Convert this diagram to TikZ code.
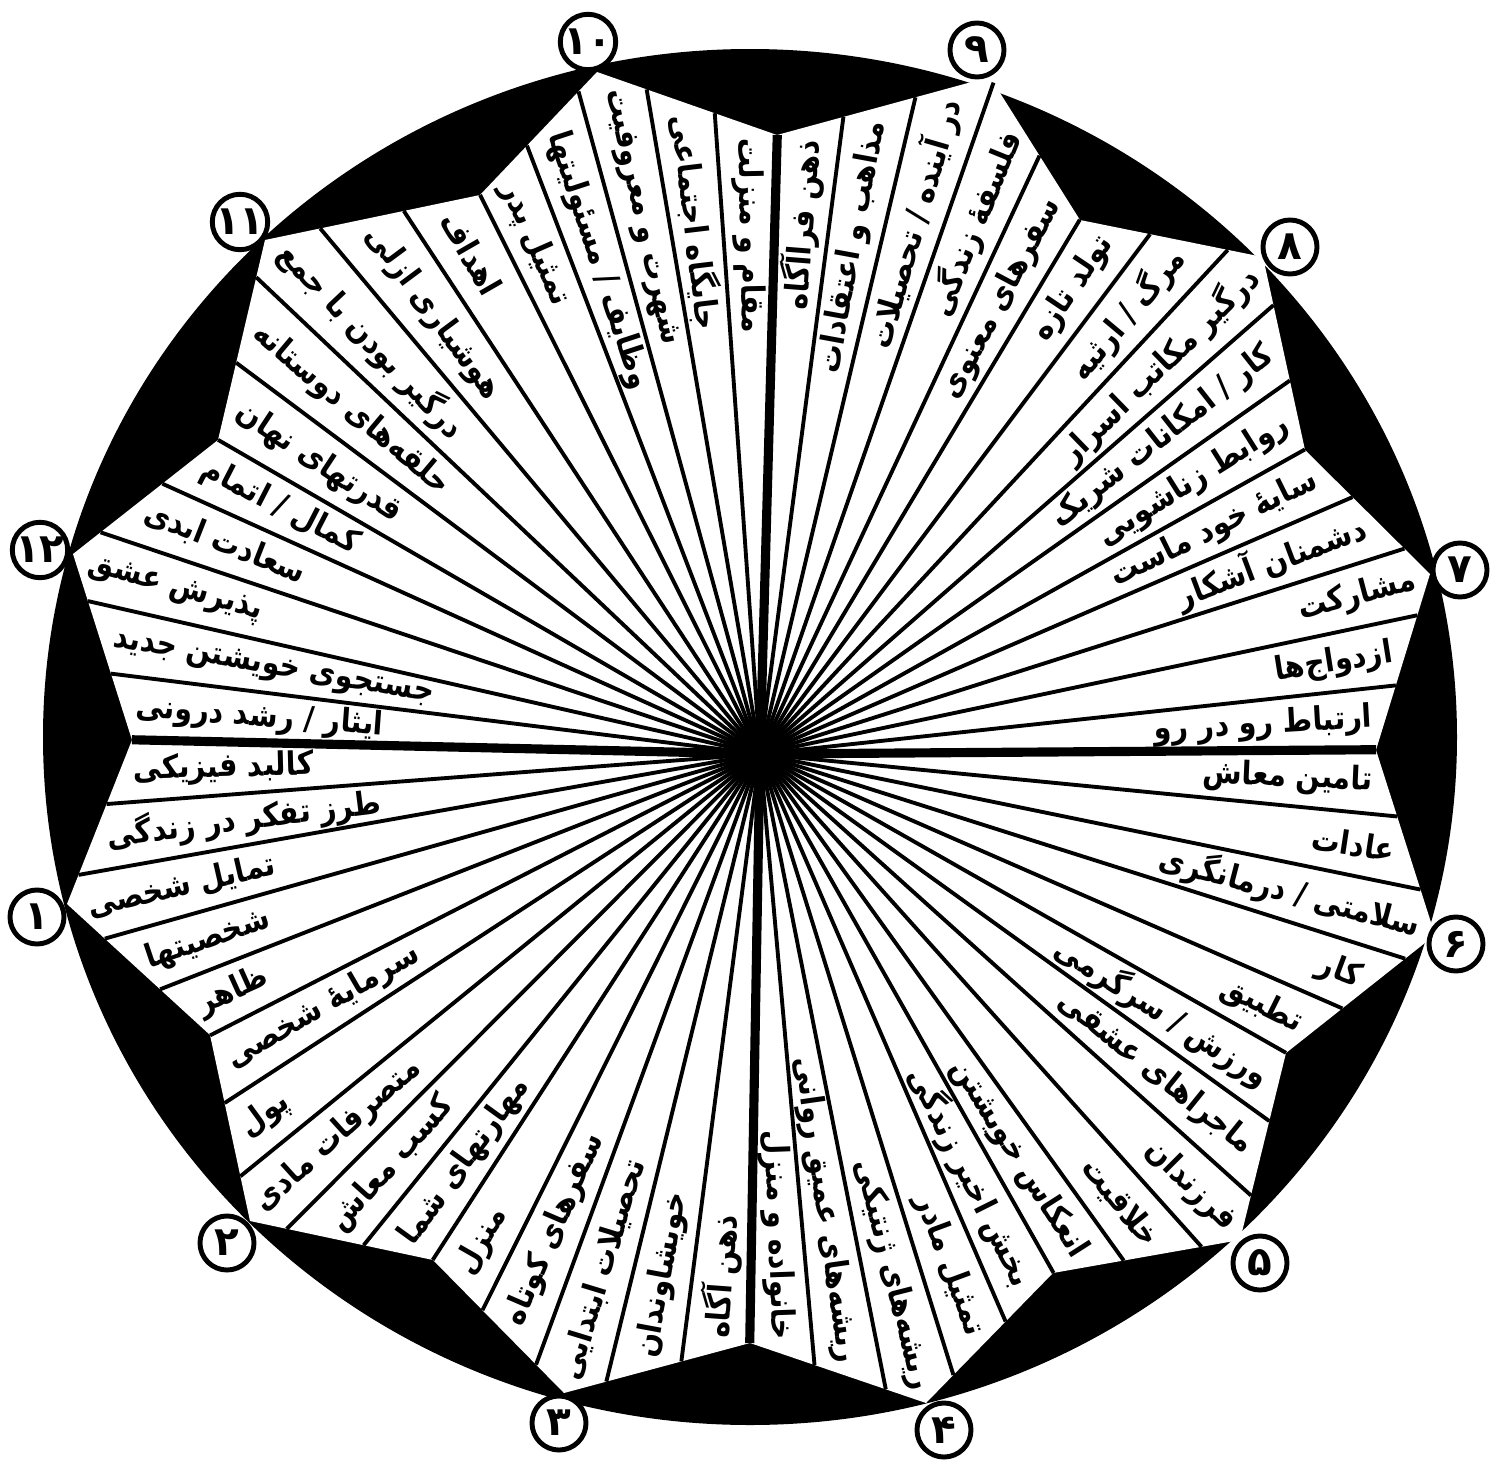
\documentclass[tikz,border=0pt]{standalone}
\usepackage{fontspec}
\usetikzlibrary{intersections}
\newfontfamily\arabicfont[Script=Arabic]{DejaVu Sans}
\newfontfamily\arabicnarrow[Script=Arabic,FakeStretch=0.88]{DejaVu Sans}
\TeXXeTstate=1
\tikzset{
  house label/.style={font=\arabicnarrow\bfseries\fontsize{9.2}{11}\selectfont, inner sep=1pt, outer sep=3pt},
  spoke/.style={line width=1.1pt},
  axis spoke/.style={line width=2.6pt},
  cusp mark/.style={circle, draw, line width=1.4pt, fill=white, minimum size=0.54cm, inner sep=0pt,
    font=\arabicfont\bfseries\fontsize{11.5}{12}\selectfont}
}
\def\cusplist{{178.7,207.1,237.1,269,299.5,330.4,360.4,389.2,419.1,448.4,476.6,509.9,538.7}}
\begin{document}
\begin{tikzpicture}[x=0.01cm,y=0.01cm]
  \useasboundingbox (0,0) rectangle (1493,-1463);
  \coordinate (O) at (760,-754);

  % black disc and white star
  \fill (750,-737) ellipse [x radius=707, y radius=688];
  \fill[white, name path=star] (67,-904) -- (210,-1035) -- (250,-1221) -- (433,-1260)
    -- (564,-1393) -- (750,-1343) -- (926,-1403) -- (1053,-1273) -- (1240,-1240)
    -- (1286,-1053) -- (1435,-935) -- (1376,-750) -- (1430,-574) -- (1305,-450)
    -- (1263,-257) -- (1080,-220) -- (990,-77) -- (777,-135) -- (597,-72)
    -- (480,-195) -- (265,-240) -- (218,-440) -- (73,-554) -- (132,-740) -- cycle;

  % spokes and labels, five per house
  \foreach \txt [count=\i from 0] in {
    کالبد فیزیکی, طرز تفکر در زندگی, تمایل شخصی, شخصیتها, ظاهر,
    سرمایهٔ شخصی, پول, متصرفات مادی, کسب معاش, مهارتهای شما,
    منزل, سفرهای کوتاه, تحصیلات ابتدایی, خویشاوندان, ذهن آگاه,
    خانواده و منزل, ریشه‌های عمیق روانی, ریشه‌های ژنتیکی, تمثیل مادر, بخش اخیر زندگی,
    انعکاس خویشتن, خلاقیت, فرزندان, ماجراهای عشقی, ورزش / سرگرمی,
    تطبیق, کار, سلامتی / درمانگری, عادات, تامین معاش,
    ارتباط رو در رو, ازدواج‌ها, مشارکت, دشمنان آشکار, سایهٔ خود ماست,
    روابط زناشویی, کار / امکانات شریک, درگیر مکاتب اسرار, مرگ / ارثیه, تولد تازه,
    سفرهای معنوی, فلسفهٔ زندگی, در آینده / تحصیلات, مذاهب و اعتقادات, ذهن فراآگاه,
    مقام و منزلت, جایگاه اجتماعی, شهرت و معروفیت, وظایف / مسئولیتها, تمثیل پدر,
    اهداف, هوشیاری ازلی, درگیر بودن با جمع, حلقه‌های دوستانه, قدرتهای نهان,
    کمال / اتمام, سعادت ابدی, پذیرش عشق, جستجوی خویشتن جدید, ایثار / رشد درونی}{
    \pgfmathtruncatemacro\h{int(\i/5)}
    \pgfmathtruncatemacro\j{\i-5*\h}
    \pgfmathsetmacro\ca{\cusplist[\h]}
    \pgfmathsetmacro\cb{\cusplist[\h+1]}
    \pgfmathsetmacro\sang{\ca+\j*(\cb-\ca)/5}
    \pgfmathsetmacro\lang{\ca+(\j+0.5)*(\cb-\ca)/5}
    \pgfmathtruncatemacro\isaxis{(\j==0 && mod(\h,3)==0) ? 1 : 0}
    \path[name path=sray] (O) -- ++(\sang:1200);
    \path[name path=lray] (O) -- ++(\lang:1200);
    \path[name intersections={of=star and sray, by=S\i}];
    \path[name intersections={of=star and lray, by=L\i}];
    \ifnum\isaxis=1
      \draw[axis spoke] (O) -- (S\i);
    \else
      \draw[spoke] (O) -- (S\i);
    \fi
    \pgfmathsetmacro\cc{cos(\lang)}
    \ifdim\cc pt>0pt
      \def\anc{east}\let\rot\lang
    \else
      \def\anc{west}\pgfmathsetmacro\rot{\lang+180}
    \fi
    \node[house label, rotate=\rot, anchor=\anc] (lab\i) at (L\i) {\beginR\txt\endR};
  }
  \fill (O) circle [radius=11];

  % numbered cusps
  \foreach \x/\y/\num [count=\k] in {37/917/۱, 227/1243/۲, 559/1423/۳, 944/1430/۴,
      1260/1263/۵, 1456/944/۶, 1460/570/۷, 1290/247/۸, 977/50/۹, 588/42/۱۰,
      240/222/۱۱, 40/550/۱۲}
    \node[cusp mark] (cusp\k) at (\x,-\y) {\num};
\end{tikzpicture}
\end{document}
